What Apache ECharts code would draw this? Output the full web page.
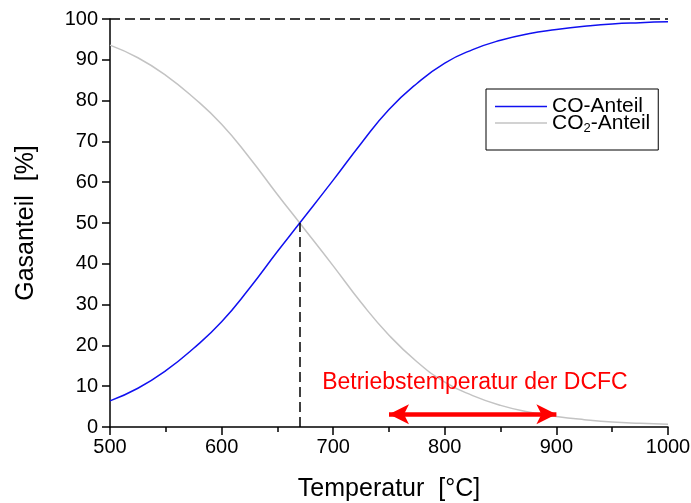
<!DOCTYPE html>
<html>
<head>
<meta charset="utf-8">
<script src="https://cdn.jsdelivr.net/npm/echarts@6/dist/echarts.min.js"></script>
<style>
  html, body { margin: 0; padding: 0; background: #fff; }
  #chart { width: 691px; height: 503px; }
</style>
</head>
<body>
<div id="chart"></div>
<script>
// values
const temps = [500, 525, 550, 575, 600, 625, 650, 670, 700, 725, 750, 775, 800, 825, 850, 875, 900, 925, 950, 975, 1000];
const coShare = [6.4, 9.5, 13.8, 19.3, 25.8, 34, 43, 50, 60.5, 69.5, 77.8, 84.2, 89.2, 92.5, 94.8, 96.4, 97.4, 98.2, 98.8, 99.1, 99.3];
const co2Share = [93.6, 90.5, 86.2, 80.7, 74.2, 66, 57, 50, 39.5, 30.5, 22.5, 16, 11, 7.7, 5.3, 3.7, 2.6, 1.8, 1.2, 0.9, 0.7];
const crossT = 670;
const rangeStart = 750, rangeEnd = 900, rangeLevel = 3.1;
const rangeText = 'Betriebstemperatur der DCFC';
const rangeTextPos = [827, 10.8];

const font = 'Liberation Sans, Arial, sans-serif';
const chart = echarts.init(document.getElementById('chart'));

const pairs = (ys) => temps.map((t, i) => [t, ys[i]]);
const dash = { type: [10, 5], color: '#000', width: 1.5 };

chart.setOption({
  animation: false,
  grid: { left: 110, right: 23, top: 19, bottom: 76, outerBoundsMode: 'none' },
  legend: {
    data: ['CO-Anteil', 'CO2-Anteil'],
    orient: 'vertical',
    left: 486, top: 89,
    padding: [7, 8, 15, 9],
    borderColor: '#000', borderWidth: 1,
    icon: 'rect',
    itemWidth: 52, itemHeight: 1.5, itemGap: -6,
    textStyle: {
      fontFamily: font, fontSize: 21, color: '#000', lineHeight: 17,
      rich: {
        n: { fontFamily: font, fontSize: 21, color: '#000', lineHeight: 17 },
        s: { fontFamily: font, fontSize: 13, color: '#000', lineHeight: 7, padding: [11, 0, 0, 0] }
      }
    },
    formatter: (name) => name === 'CO2-Anteil' ? '{n|CO}{s|2}{n|-Anteil}' : '{n|' + name + '}'
  },
  xAxis: {
    type: 'value', min: 500, max: 1000, interval: 100,
    name: 'Temperatur  [°C]', nameLocation: 'middle', nameGap: 50,
    nameTextStyle: { fontFamily: font, fontSize: 25, color: '#000' },
    axisLine: { lineStyle: { color: '#000', width: 1.5 } },
    axisTick: { length: 8, lineStyle: { color: '#000', width: 1.5 } },
    minorTick: { show: true, splitNumber: 2, length: 5, lineStyle: { color: '#000', width: 1.5 } },
    axisLabel: { fontFamily: font, fontSize: 20, color: '#000', margin: 10, formatter: (v) => String(v) },
    splitLine: { show: false }
  },
  yAxis: {
    type: 'value', min: 0, max: 100, interval: 10,
    name: 'Gasanteil  [%]', nameLocation: 'middle', nameGap: 71,
    nameTextStyle: { fontFamily: font, fontSize: 25, color: '#000' },
    axisLine: { show: true, lineStyle: { color: '#000', width: 1.5 } },
    axisTick: { show: true, length: 8, lineStyle: { color: '#000', width: 1.5 } },
    axisLabel: { fontFamily: font, fontSize: 20, color: '#000', margin: 12 },
    splitLine: { show: false }
  },
  series: [
    {
      name: 'CO-Anteil', type: 'line', data: pairs(coShare), smooth: true,
      symbol: 'none', lineStyle: { color: '#1010f0', width: 1.5 }, itemStyle: { color: '#1010f0' },
      z: 3,
      markLine: {
        silent: true, symbol: 'none', animation: false,
        label: { show: false },
        lineStyle: dash,
        data: [
          [{ coord: [500, 100] }, { coord: [1000, 100] }],
          [{ coord: [crossT, 0] }, { coord: [crossT, 50] }]
        ]
      }
    },
    {
      name: 'CO2-Anteil', type: 'line', data: pairs(co2Share), smooth: true,
      symbol: 'none', lineStyle: { color: '#c3c3c3', width: 1.5 }, itemStyle: { color: '#c3c3c3' },
      z: 2,
      markLine: {
        silent: true, symbol: ['arrow', 'arrow'], symbolSize: [15, 20], animation: false,
        label: { show: false },
        lineStyle: { color: '#ff0000', width: 4.5, type: 'solid' },
        data: [[{ coord: [rangeStart, rangeLevel] }, { coord: [rangeEnd, rangeLevel] }]]
      },
      markPoint: {
        silent: true, symbol: 'circle', symbolSize: 0, animation: false,
        label: { show: true, position: 'inside', formatter: rangeText, fontFamily: font, fontSize: 23, color: '#ff0000' },
        data: [{ coord: rangeTextPos }]
      }
    }
  ]
});
</script>
</body>
</html>
